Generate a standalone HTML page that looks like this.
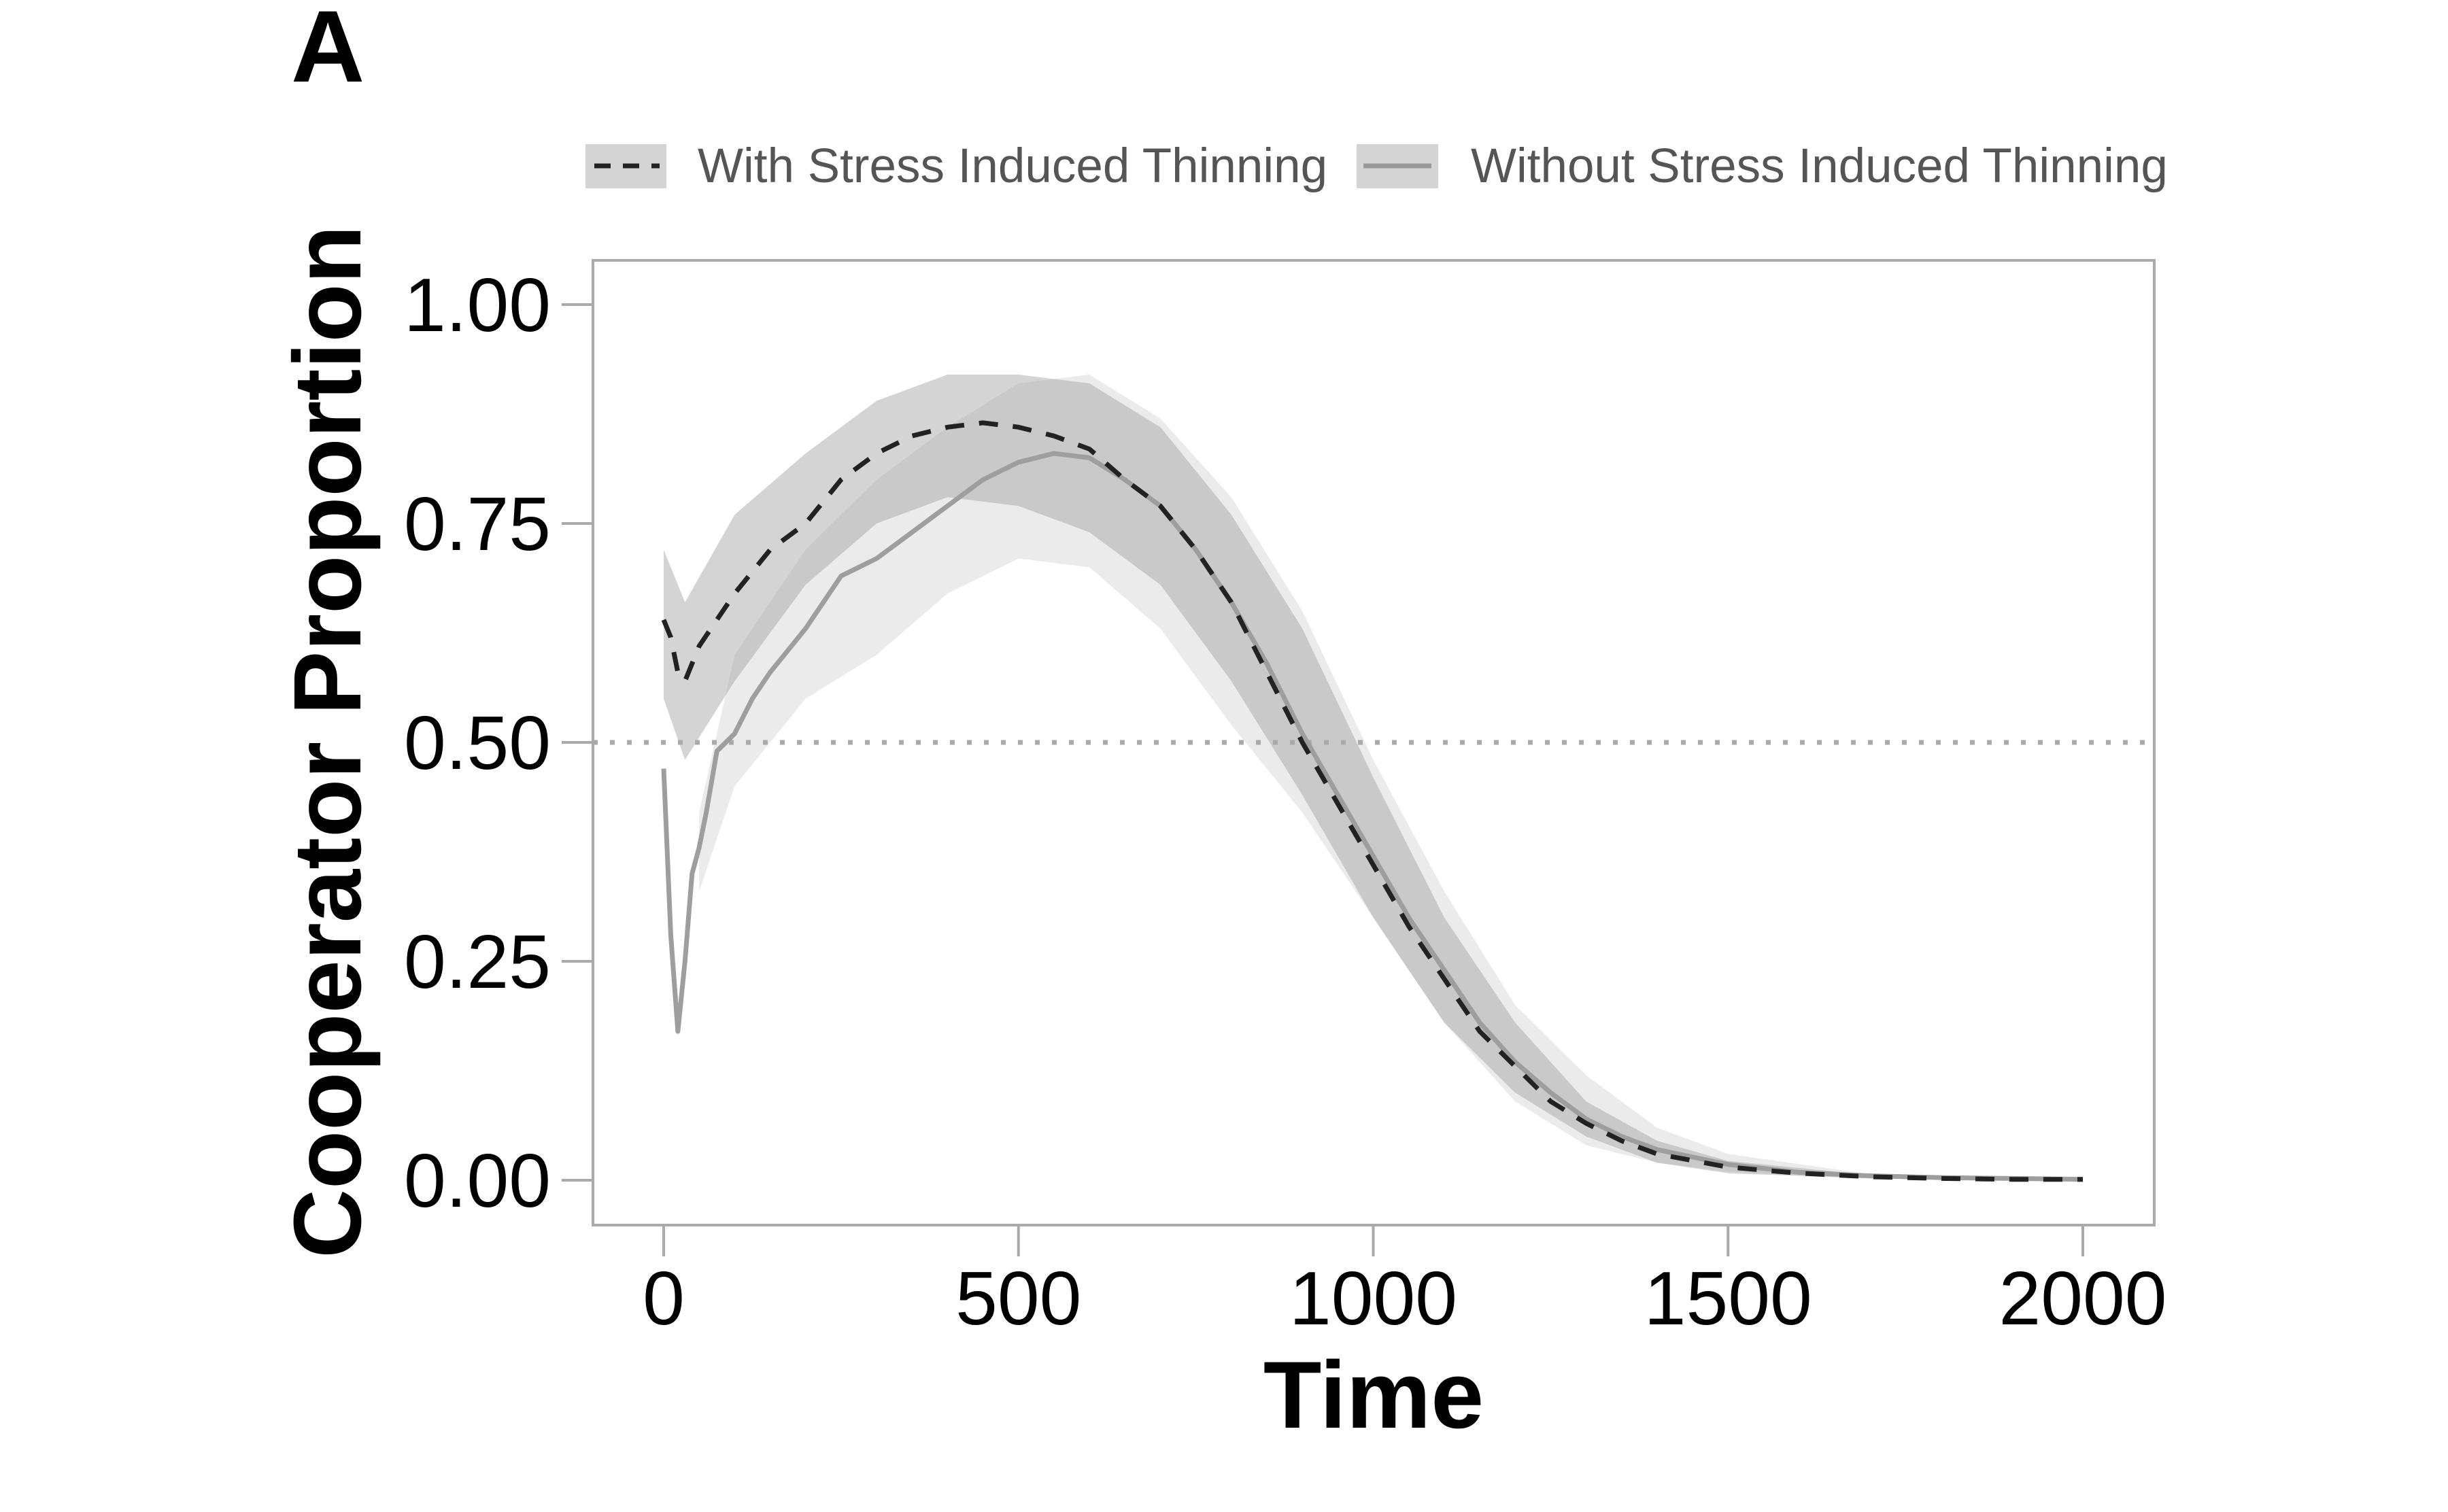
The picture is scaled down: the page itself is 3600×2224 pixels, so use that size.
<!DOCTYPE html>
<html><head><meta charset="utf-8"><style>
html,body{margin:0;padding:0;background:#fff}
svg{display:block;font-family:"Liberation Sans",sans-serif}
</style></head><body>
<svg id="chart" width="3600" height="2224" viewBox="0 0 3600 2224">
<text x="428" y="120" font-size="150" font-weight="bold" fill="#000">A</text>
<g>
 <g>
  <rect x="861" y="212" width="119" height="65" fill="#d4d4d4"/>
  <line x1="874" y1="244" x2="970" y2="244" stroke="#222" stroke-width="7" stroke-dasharray="24,18"/>
  <text x="1026" y="268" font-size="71" fill="#555">With Stress Induced Thinning</text>
 </g>
 <g>
  <rect x="1995" y="212" width="120" height="65" fill="#d4d4d4"/>
  <line x1="2005" y1="244" x2="2105" y2="244" stroke="#999" stroke-width="7"/>
  <text x="2163" y="268" font-size="71" fill="#555">Without Stress Induced Thinning</text>
 </g>
</g>
<g id="plot"></g>
<text x="2020" y="2100" font-size="140" font-weight="bold" text-anchor="middle">Time</text>
<text transform="translate(530,1091) rotate(-90)" font-size="141" font-weight="bold" text-anchor="middle">Cooperator Proportion</text>
</svg>
<script>
const tWith=[0,10,20,30,50,75,100,150,200,250,300,350,400,450,500,550,600,650,700,750,800,850,900,950,1000,1050,1100,1150,1200,1250,1300,1350,1400,1500,1600,1700,1800,1900,2000];
const meanWith=[0.64,0.62,0.58,0.57,0.61,0.64,0.67,0.72,0.75,0.80,0.83,0.85,0.86,0.865,0.86,0.85,0.835,0.80,0.77,0.72,0.66,0.58,0.50,0.43,0.36,0.29,0.23,0.17,0.13,0.09,0.065,0.045,0.03,0.015,0.008,0.004,0.002,0.001,0.001];
const tWithBand=[0,30,100,200,300,400,500,600,700,800,900,1000,1100,1200,1300,1400,1500,1700,2000];
const lowWith=[0.55,0.48,0.57,0.68,0.75,0.78,0.77,0.74,0.68,0.57,0.44,0.30,0.18,0.10,0.05,0.02,0.008,0.002,0.0];
const highWith=[0.72,0.66,0.76,0.83,0.89,0.92,0.92,0.91,0.86,0.76,0.63,0.46,0.30,0.18,0.09,0.045,0.022,0.006,0.002];
const tWithout=[0,10,20,30,40,50,60,75,100,125,150,200,250,300,350,400,450,500,550,600,650,700,750,800,850,900,950,1000,1050,1100,1150,1200,1250,1300,1350,1400,1500,1600,1700,1800,1900,2000];
const meanWithout=[0.47,0.28,0.17,0.25,0.35,0.38,0.42,0.49,0.51,0.55,0.58,0.63,0.69,0.71,0.74,0.77,0.80,0.82,0.83,0.825,0.80,0.77,0.72,0.66,0.59,0.51,0.44,0.37,0.30,0.24,0.18,0.135,0.10,0.07,0.05,0.035,0.018,0.009,0.005,0.003,0.002,0.001];
const tWithoutBand=[50,100,200,300,400,500,600,700,800,900,1000,1100,1200,1300,1400,1500,1700,2000];
const lowWithout=[0.33,0.45,0.55,0.60,0.67,0.71,0.70,0.63,0.52,0.42,0.30,0.18,0.09,0.04,0.02,0.01,0.002,0.0];
const highWithout=[0.42,0.60,0.72,0.80,0.86,0.91,0.92,0.87,0.78,0.65,0.48,0.33,0.20,0.12,0.06,0.03,0.007,0.002];
const xTicks=[0,500,1000,1500,2000];
const yTicks=[0,0.25,0.5,0.75,1.0];
const yTickLabels=["0.00","0.25","0.50","0.75","1.00"];

const X0=976,X1=3063,Y0=1736,Y1=448;
const PL=872,PR=3168,PT=383,PB=1802;
const sx=v=>X0+(X1-X0)*v/2000;
const sy=v=>Y0-(Y0-Y1)*v;
const NS="http://www.w3.org/2000/svg";
const g=document.getElementById('plot');
function mk(tag,attrs){const e=document.createElementNS(NS,tag);for(const k in attrs)e.setAttribute(k,attrs[k]);g.appendChild(e);return e;}
function band(t,lo,hi){let d='M'+t.map((v,i)=>sx(v)+','+sy(hi[i])).join('L');for(let i=t.length-1;i>=0;i--)d+='L'+sx(t[i])+','+sy(lo[i]);return d+'Z';}
function line(t,m){return 'M'+t.map((v,i)=>sx(v)+','+sy(m[i])).join('L');}

const frame=mk('rect',{x:PL,y:PT,width:PR-PL,height:PB-PT,fill:'none',stroke:'#aaa','stroke-width':4});


yTicks.forEach((v,i)=>{
 const tk=mk('line',{x1:PL-46,x2:PL,y1:sy(v),y2:sy(v),stroke:'#aaa','stroke-width':4});
 
 
 const tl=mk('text',{x:810,y:sy(v)+39,'font-size':111,'text-anchor':'end',fill:'#000'});
 tl.textContent=yTickLabels[i];
 
 
});
xTicks.forEach(v=>{
 const tk=mk('line',{x1:sx(v),x2:sx(v),y1:PB,y2:PB+46,stroke:'#aaa','stroke-width':4});
 
 
 const tl=mk('text',{x:sx(v),y:1948,'font-size':111,'text-anchor':'middle',fill:'#000'});
 tl.textContent=String(v);
 
 
});
const b1=mk('path',{d:band(tWithoutBand,lowWithout,highWithout),fill:'#ebebeb'});


const b2=mk('path',{d:band(tWithBand,lowWith,highWith),fill:'rgb(160,160,160)','fill-opacity':0.45});


const hl=mk('line',{x1:PL,x2:PR,y1:sy(0.5),y2:sy(0.5),stroke:'#aaa','stroke-width':7,'stroke-dasharray':'7,18'});


const l1=mk('path',{d:line(tWithout,meanWithout),fill:'none',stroke:'#9e9e9e','stroke-width':7,'stroke-linejoin':'round'});


const l2=mk('path',{d:line(tWith,meanWith),fill:'none',stroke:'#222','stroke-width':7,'stroke-dasharray':'28,22'});


</script>
</body></html>
